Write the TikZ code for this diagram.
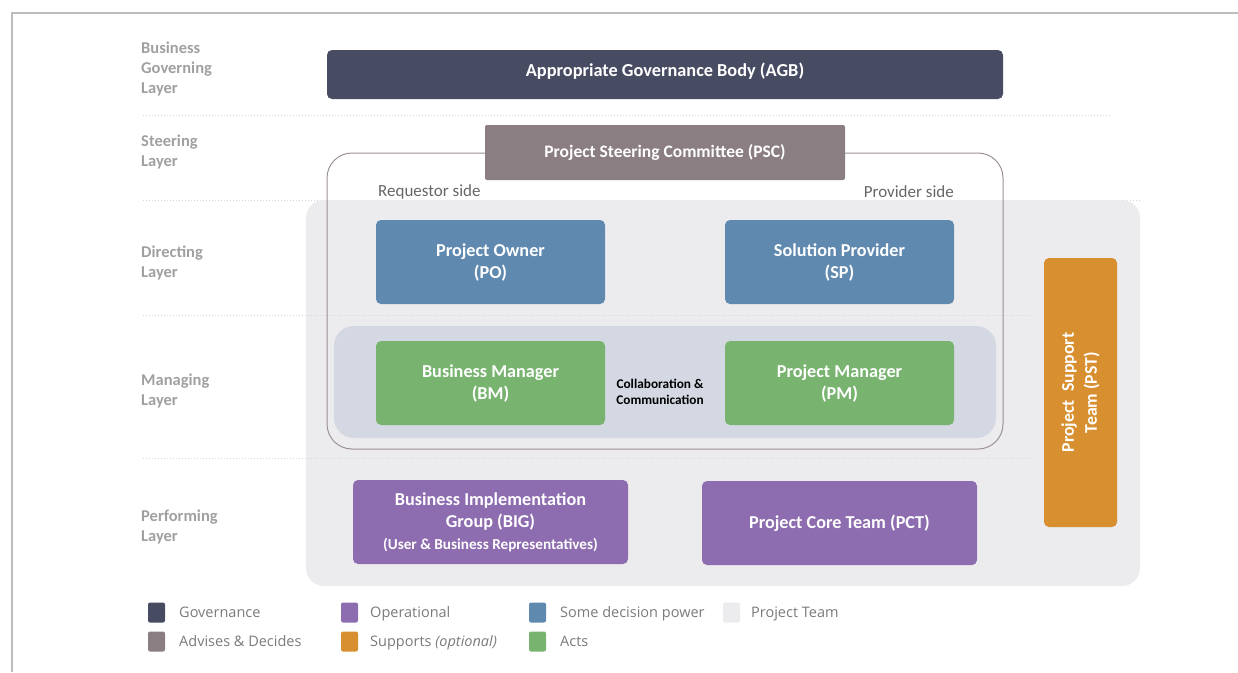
\documentclass[tikz,border=0pt]{standalone}
\usepackage{fontspec}
\setmainfont{Carlito}
\newfontfamily\legfont{Open Sans}
\definecolor{cgov}{HTML}{474C63}
\definecolor{cadv}{HTML}{8B7E82}
\definecolor{cdec}{HTML}{6089B0}
\definecolor{cact}{HTML}{78B46F}
\definecolor{cop}{HTML}{8E6CB0}
\definecolor{csup}{HTML}{D78F2F}
\definecolor{cteam}{HTML}{ECEBED}
\definecolor{cband}{HTML}{D3D8E2}
\definecolor{clayer}{HTML}{A0A0A0}
\definecolor{cframe}{HTML}{BDBDBD}
\definecolor{csep}{HTML}{D6D6D6}
\definecolor{cside}{HTML}{666666}
\definecolor{cleg}{HTML}{7A7A7A}
\tikzset{
  box/.style={rounded corners=5pt, inner sep=0pt, text=white, align=center,
    font=\fontsize{18.2}{22}\selectfont\bfseries},
  layer/.style={anchor=west, align=left, text=clayer, inner sep=0pt,
    font=\fontsize{16.5}{20}\selectfont\bfseries},
  sep/.style={csep, line width=1pt, dotted},
  sidelbl/.style={text=cside, inner sep=0pt, font=\fontsize{17}{18}\selectfont},
  legsq/.style={rounded corners=2pt, minimum width=17pt, minimum height=20pt, inner sep=0pt},
  legtxt/.style={anchor=base west, text=cleg, inner sep=0pt, font=\legfont\fontsize{14.5}{16}\selectfont},
}
\begin{document}
\begin{tikzpicture}[x=1pt,y=-1pt]
\useasboundingbox (0,0) rectangle (1238,672);
% frame
\draw[cframe, line width=2pt] (12,672) -- (12,13) -- (1238,13);
% separators
\draw[sep] (143,115) -- (1112,115);
\draw[sep] (143,200) -- (1140,200);
% project team area
\node[fill=cteam, rounded corners=18pt, minimum width=834pt, minimum height=386pt, inner sep=0pt] (team) at (723,393) {};
\draw[sep] (143,315) -- (1030,315);
\draw[sep] (143,458) -- (1030,458);
% layer labels
\node[layer] (l1) at (141,69) {Business\\Governing\\Layer};
\node[layer] (l2) at (141,152) {Steering\\Layer};
\node[layer] (l3) at (141,263) {Directing\\Layer};
\node[layer] (l4) at (141,391) {Managing\\Layer};
\node[layer] (l5) at (141,527) {Performing\\Layer};
% AGB
\node[box, fill=cgov, minimum width=676pt, minimum height=49pt, text height=13.5pt, text depth=10pt, font=\fontsize{18.3}{20}\selectfont\bfseries] (agb) at (665,74.5) {Appropriate Governance Body (AGB)};
% outline
\node[draw=cadv!85!white, line width=1pt, rounded corners=25pt, minimum width=676pt, minimum height=296pt, inner sep=0pt] (outl) at (665,301) {};
% PSC
\node[box, fill=cadv, rounded corners=2pt, minimum width=360pt, minimum height=55pt, font=\fontsize{17.5}{18}\selectfont\bfseries] (psc) at (665,152.5) {Project Steering Committee (PSC)};
\node[sidelbl, anchor=west] (req) at (378,192) {Requestor side};
\node[sidelbl, anchor=east] (prov) at (954,192) {Provider side};
% directing
\node[box, fill=cdec, minimum width=229pt, minimum height=84pt] (po) at (490.5,262) {Project Owner\\(PO)};
\node[box, fill=cdec, minimum width=229pt, minimum height=84pt] (sp) at (839.5,262) {Solution Provider\\(SP)};
% managing band
\node[fill=cband, rounded corners=20pt, minimum width=662pt, minimum height=112pt, inner sep=0pt] (band) at (665,382) {};
\node[box, fill=cact, minimum width=229pt, minimum height=84pt] (bm) at (490.5,383) {Business Manager\\(BM)};
\node[box, fill=cact, minimum width=229pt, minimum height=84pt] (pm) at (839.5,383) {Project Manager\\(PM)};
\node[align=center, inner sep=0pt, font=\fontsize{13.3}{16.5}\selectfont\bfseries] (collab) at (660,392) {Collaboration \&\\Communication};
% performing
\node[box, fill=cop, minimum width=275pt, minimum height=84pt] (big) at (490.5,522) {Business Implementation\\Group (BIG)\\{\fontsize{15.2}{22}\selectfont(User \& Business Representatives)}};
\node[box, fill=cop, minimum width=275pt, minimum height=84pt] (pct) at (839.5,523) {Project Core Team (PCT)};
% PST
\node[fill=csup, rounded corners=5pt, minimum width=73pt, minimum height=269pt, inner sep=0pt] (pst) at (1080.5,392.5) {};
\node[text=white, align=center, rotate=90, inner sep=0pt, font=\fontsize{17.8}{23}\selectfont\bfseries] (psttxt) at (pst.center) {Project~~Support\\Team (PST)};
% legend
\node[legsq, fill=cgov] (g1) at (156.5,612.5) {};
\node[legtxt] (t1) at (179,617.5) {Governance};
\node[legsq, fill=cadv] (g2) at (156.5,641.5) {};
\node[legtxt] (t2) at (179,646.5) {Advises \& Decides};
\node[legsq, fill=cop] (g3) at (349.5,612.5) {};
\node[legtxt] (t3) at (370,617.5) {Operational};
\node[legsq, fill=csup] (g4) at (349.5,641.5) {};
\node[legtxt] (t4) at (370,646.5) {Supports \textit{(optional)}};
\node[legsq, fill=cdec] (g5) at (537.5,612.5) {};
\node[legtxt] (t5) at (560,617.5) {Some decision power};
\node[legsq, fill=cact] (g6) at (537.5,641.5) {};
\node[legtxt] (t6) at (560,646.5) {Acts};
\node[legsq, fill=cteam] (g7) at (731.5,612.5) {};
\node[legtxt] (t7) at (751,617.5) {Project Team};
\end{tikzpicture}
\end{document}
